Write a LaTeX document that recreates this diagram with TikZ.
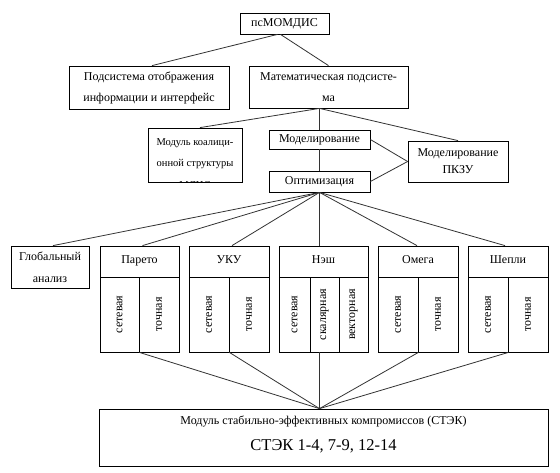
\documentclass[tikz,border=0pt]{standalone}
\usepackage{fontspec}
\setmainfont{Liberation Serif}
\usepackage{graphicx}
\newcommand\fsN{\fontsize{12}{21}\selectfont}
\newcommand\fsP{\fontsize{12}{17}\selectfont}
\newcommand\fsG{\fontsize{12}{22}\selectfont}
\newcommand\fsS{\fontsize{10.5}{21.5}\selectfont}
\newcommand\fsL{\fontsize{16.5}{20}\selectfont}
\newcommand\upT[1]{\raisebox{3pt}{#1}}
\begin{document}
\begin{tikzpicture}[x=1pt,y=-1pt,
  box/.style={draw, line width=0.8pt, inner sep=0pt, align=center, font=\fsN},
  colbox/.style={draw, line width=0.8pt, inner sep=0pt, minimum height=75pt, font=\fsN},
  hdr/.style={draw, line width=0.8pt, inner sep=0pt, minimum height=31pt, font=\fsN},
  conn/.style={draw=black!80, line width=0.8pt}]
\useasboundingbox[fill=white] (0,0) rectangle (560,472);

% top levels
\node[box, minimum width=89pt, minimum height=21pt] (ps) at (284.5,23.5) {псМОМДИС};
\node[box, minimum width=160pt, minimum height=43pt] (sub) at (149,87.5) {Подсистема отображения\\информации и интерфейс};
\node[box, minimum width=159pt, minimum height=42pt] (mat) at (328.5,87) {Математическая подсисте-\\ма};

\node[box, minimum width=94pt, minimum height=54pt] (mod) at (195,155) {};
\begin{scope}
  \clip (148,128) rectangle (242,182);
  \node[font=\fsS, align=center, inner sep=0pt] (modt) at (195,164.5) {Модуль коалици-\\онной структуры\\МДИС};
\end{scope}

\node[box, minimum width=101pt, minimum height=19pt] (mdl) at (319.5,139.5) {Моделирование};
\node[box, minimum width=101pt, minimum height=21pt] (opt) at (319.5,181.5) {Оптимизация};
\node[box, font=\fsP, minimum width=100pt, minimum height=41pt] (pkzu) at (458,161.5) {Моделирование\\ПКЗУ};

% bottom row
\node[box, font=\fsG, minimum width=78pt, minimum height=42pt] (glob) at (50,267) {\raisebox{-2pt}{Глобальный}\\\raisebox{-2pt}{анализ}};

\node[hdr, minimum width=79pt] (par) at (139.5,261.5) {\upT{Парето}};
\node[colbox, minimum width=39pt] (par1) at (119.5,314.5) {\rotatebox{90}{сетевая}};
\node[colbox, minimum width=40pt] (par2) at (159,314.5) {\rotatebox{90}{точная}};

\node[hdr, minimum width=80pt] (uku) at (229,261.5) {\upT{УКУ}};
\node[colbox, minimum width=40pt] (uku1) at (209,314.5) {\rotatebox{90}{сетевая}};
\node[colbox, minimum width=40pt] (uku2) at (249,314.5) {\rotatebox{90}{точная}};

\node[hdr, minimum width=89pt] (nash) at (323.5,261.5) {\upT{Нэш}};
\node[colbox, minimum width=31pt] (nash1) at (294.5,314.5) {\rotatebox{90}{сетевая}};
\node[colbox, minimum width=29pt] (nash2) at (324.5,314.5) {\rotatebox{90}{скалярная}};
\node[colbox, minimum width=29pt] (nash3) at (353.5,314.5) {\rotatebox{90}{векторная}};

\node[hdr, minimum width=80pt] (om) at (418,261.5) {\upT{Омега}};
\node[colbox, minimum width=40pt] (om1) at (398,314.5) {\rotatebox{90}{сетевая}};
\node[colbox, minimum width=40pt] (om2) at (438,314.5) {\rotatebox{90}{точная}};

\node[hdr, minimum width=80pt] (sh) at (508,261.5) {\upT{Шепли}};
\node[colbox, minimum width=40pt] (sh1) at (488,314.5) {\rotatebox{90}{сетевая}};
\node[colbox, minimum width=40pt] (sh2) at (528,314.5) {\rotatebox{90}{точная}};

% STEK
\node[box, minimum width=449pt, minimum height=57pt] (stek) at (323.5,437.5) {};
\node[font=\fsN, inner sep=0pt] (stek1) at (323.5,421) {Модуль стабильно-эффективных компромиссов (СТЭК)};
\node[font=\fsL, inner sep=0pt] (stek2) at (323.5,446) {СТЭК 1-4, 7-9, 12-14};

% connectors
\draw[conn] ([xshift=-7pt]ps.south) -- ([xshift=3pt]sub.north);
\draw[conn] ([xshift=-4pt]ps.south) -- (mat.north);
\draw[conn] (mat.south -| mdl.north) -- ([xshift=5pt]mod.north);
\draw[conn] (mat.south -| mdl.north) -- (mdl.north);
\draw[conn] (mat.south -| mdl.north) -- (pkzu.north);
\draw[conn] (mdl.south) -- (opt.north);
\draw[conn] (mdl.east) -- (pkzu.west);
\draw[conn] (opt.east) -- (pkzu.west);

\draw[conn] (opt.south) -- ([xshift=3pt]glob.north);
\draw[conn] (opt.south) -- ([xshift=3pt]par.north);
\draw[conn] (opt.south) -- ([xshift=3pt]uku.north);
\draw[conn] (opt.south) -- (opt.south |- nash.north);
\draw[conn] (opt.south) -- ([xshift=-1pt]om.north);
\draw[conn] (opt.south) -- ([xshift=-3pt]sh.north);

\coordinate (cv) at (opt.south |- stek.north);
\draw[conn] (par1.south east) -- (cv);
\draw[conn] (uku1.south east) -- (cv);
\draw[conn] (cv |- nash2.south) -- (cv);
\draw[conn] (om1.south east) -- (cv);
\draw[conn] (sh1.south east) -- (cv);
\end{tikzpicture}
\end{document}
